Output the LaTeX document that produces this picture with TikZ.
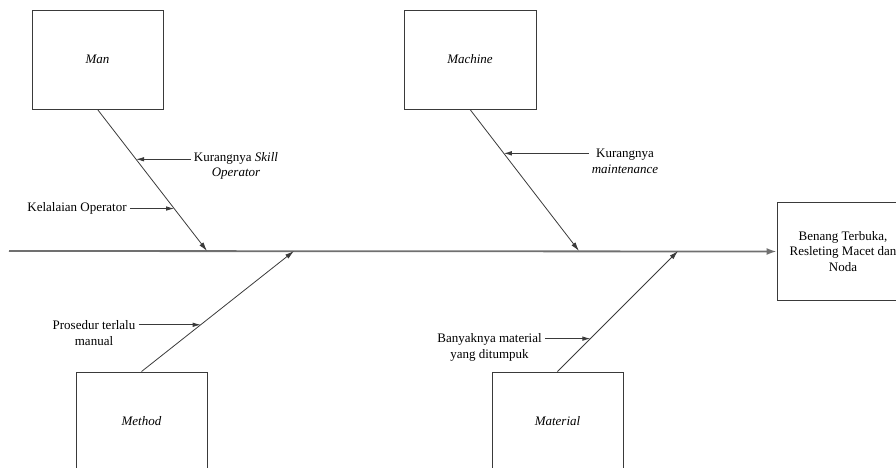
\documentclass[tikz,border=0pt]{standalone}
\usepackage{fontspec}
\setmainfont{Liberation Serif}
\usepackage{xcolor}
\usetikzlibrary{positioning,
	calc,
	arrows.meta}
\definecolor{linegray}{HTML}{3A3A3A}
\definecolor{spinegray}{HTML}{707070}

\begin{document}
\begin{tikzpicture}[x=1pt, y=-1pt,
                            font=\fontsize{13}{15.5}\selectfont,
                            catbox/.style={draw=linegray, line width=0.9pt, minimum width=131pt, minimum height=99pt, font=\fontsize{13}{15.5}\selectfont\itshape},
                            cause/.style={align=center, inner sep=3pt},
                            bone/.style={draw=linegray, line width=0.8pt, -{Latex[length=9pt,width=5pt]}},
                            causearrow/.style={draw=linegray, line width=0.8pt, -{Latex[length=8pt,width=4.5pt]}},
                            spine/.style={draw=spinegray, line width=1.8pt, -{Latex[length=10pt,width=7pt]}}]
                            \useasboundingbox (0,0) rectangle (896,468);
                            \clip (0,0) rectangle (896,468);
                            % main categories
                            \node (man) [catbox] at (97.5,59.5) {Man};
                            \node (machine) [catbox, minimum width=132pt] at (470,59.5) {Machine};
                            \node (method) [catbox] at (141.5,421.5) {Method};
                            \node (material) [catbox] at (557.5,421.5) {Material};
                            \node (effect) [catbox, minimum width=132pt, minimum height=98pt, align=center, font=\fontsize{13}{15.5}\selectfont] at (843,251.5) {Benang Terbuka,\\Resleting Macet dan\\Noda};
                            % spine and bones
                            \coordinate (tail) at (9,251);
                            \coordinate (j1) at (207,251);
                            \coordinate (j2) at (579,251);
                            \coordinate (j3) at (294,251);
                            \coordinate (j4) at (678,251);
                            \draw[spine] (tail) -- (effect.west);
                            \draw[bone] (man.south) -- (j1);
                            \draw[bone] (machine.south) -- (j2);
                            \draw[bone] (method.north) -- (j3);
                            \draw[bone] (material.north) -- (j4);
                            \path (man.south) -- (j1) coordinate[pos=0.352] (c1) coordinate[pos=0.70] (c2);
                            \path (machine.south) -- (j2) coordinate[pos=0.31] (c3);
                            \path (method.north) -- (j3) coordinate[pos=0.388] (c4);
                            \path (material.north) -- (j4) coordinate[pos=0.273] (c5);
                            % causes
                            \node (kskill) [cause] at (236,166) {Kurangnya \textit{Skill}\\\textit{Operator}};
                            \node (kelalaian) [cause] at (77,208) {Kelalaian Operator};
                            \node (kmaint) [cause] at (625,161.5) {Kurangnya\\\textit{maintenance}};
                            \node (prosedur) [cause] at (94,333) {Prosedur terlalu\\manual};
                            \node (banyak) [cause] at (489.5,347.5) {Banyaknya material\\yang ditumpuk};
                            \draw[causearrow] (kskill.west |- c1) -- (c1);
                            \draw[causearrow] (kelalaian.east |- c2) -- (c2);
                            \draw[causearrow] (kmaint.west |- c3) -- (c3);
                            \draw[causearrow] (prosedur.east |- c4) -- (c4);
                            \draw[causearrow] (banyak.east |- c5) -- (c5);
                        \end{tikzpicture}
\end{document}
